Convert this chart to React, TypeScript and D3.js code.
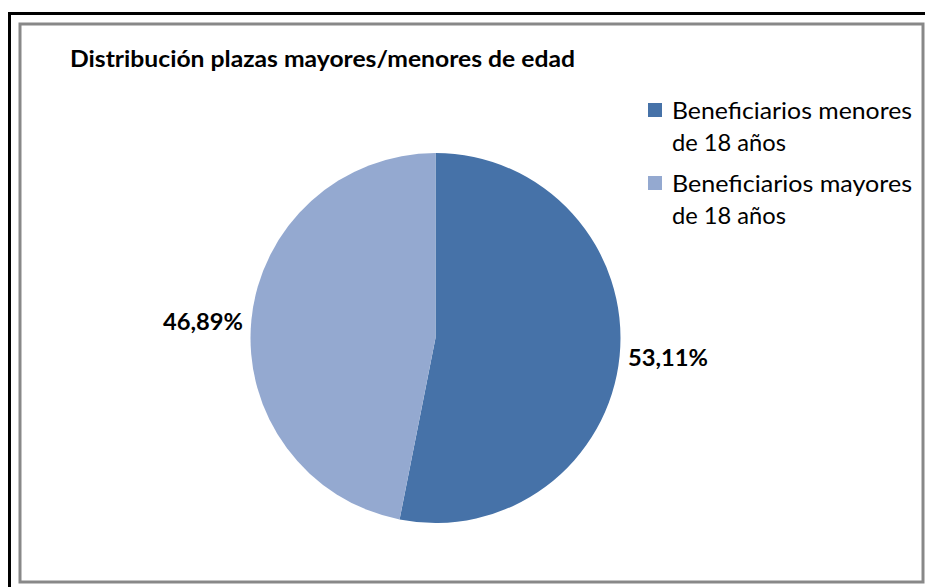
import React from "react";
import * as d3 from "d3";

const title = "Distribución plazas mayores/menores de edad";
const categories = ["Beneficiarios menores de 18 años", "Beneficiarios mayores de 18 años"];
const legendLines = [["Beneficiarios menores", "de 18 años"], ["Beneficiarios mayores", "de 18 años"]];
const values = [53.11, 46.89];
const labels = ["53,11%", "46,89%"];
const colors = ["#4672A8", "#94A9D0"];

export default function App() {
  const W = 925, H = 587;
  const cx = 435.5, cy = 338, r = 185;
  const pie = d3.pie<number>().sort(null).value((d) => d);
  const arcs = pie(values);
  const arcGen = d3.arc<d3.PieArcDatum<number>>().innerRadius(0).outerRadius(r);
  const font = "Lato, 'Open Sans', sans-serif";
  const labelPos = [
    { x: 628, y: 366 },
    { x: 163, y: 330 },
  ];
  return (
    <svg width={W} height={H} style={{ position: "absolute", left: 0, top: 0, background: "#fff" }}>
      <rect x={0} y={0} width={W} height={H} fill="#fff" />
      <rect x={9.5} y={13.5} width={1200} height={1200} fill="none" stroke="#000" strokeWidth={3} />
      <rect x={20} y={24} width={903} height={558} fill="#fff" stroke="#888" strokeWidth={3} />
      <text x={70} y={67} fontFamily={font} fontWeight="bold" fontSize={22.5} textLength={505} lengthAdjust="spacingAndGlyphs" fill="#000">
        {title}
      </text>
      <g transform={`translate(${cx},${cy})`}>
        {arcs.map((a, i) => (
          <path key={categories[i]} d={arcGen(a) || ""} fill={colors[i]} />
        ))}
      </g>
      {labels.map((l, i) => (
        <text key={l} x={labelPos[i].x} y={labelPos[i].y} fontFamily={font} fontWeight="bold" fontSize={22.5} fill="#000" textLength={80} lengthAdjust="spacingAndGlyphs">
          {l}
        </text>
      ))}
      {legendLines.map((lines, i) => {
        const y0 = 103 + i * 73;
        return (
          <g key={categories[i]}>
            <rect x={648} y={y0} width={14} height={14} fill={colors[i]} />
            <text x={672} y={y0 + 15.5} fontFamily={font} fontSize={23} fill="#000" textLength={240} lengthAdjust="spacingAndGlyphs">
              {lines[0]}
            </text>
            <text x={672} y={y0 + 47.5} fontFamily={font} fontSize={23} fill="#000" textLength={114} lengthAdjust="spacingAndGlyphs">
              {lines[1]}
            </text>
          </g>
        );
      })}
    </svg>
  );
}
